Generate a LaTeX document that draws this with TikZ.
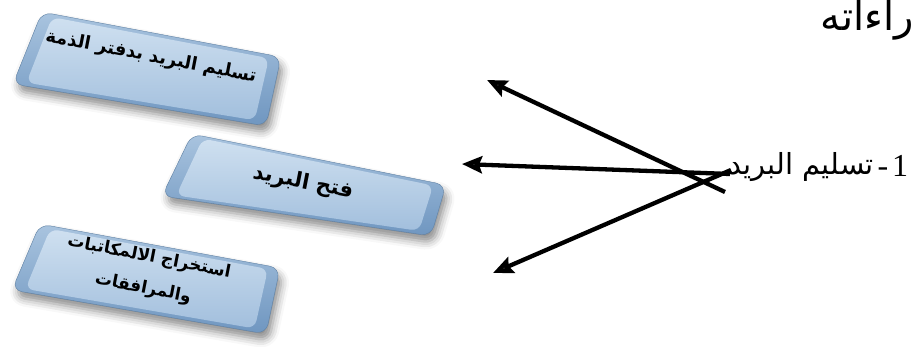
\documentclass[tikz,border=0pt]{standalone}
\usepackage{fontspec}
\setmainfont{Liberation Serif}
\newfontfamily\arabicfont[Script=Arabic]{DejaVu Sans}
\newfontfamily\numfont{Liberation Serif}
\TeXXeTstate=1
\usetikzlibrary{arrows.meta,shadows.blur,calc}
\definecolor{rimtop}{HTML}{A9C4DF}
\definecolor{rimbot}{HTML}{6F96C0}
\definecolor{facetop}{HTML}{CFE0F0}
\definecolor{facebot}{HTML}{A2BFDD}
\begin{document}
\begin{tikzpicture}[x=1pt,y=-1pt,
  rim/.style={rounded corners=10pt, top color=rimtop, bottom color=rimbot, draw=rimbot!85!black, line width=0.4pt,
    blur shadow={shadow xshift=3pt, shadow yshift=-7pt, shadow blur radius=8pt, shadow opacity=45}},
  face/.style={rounded corners=8pt, top color=facetop, bottom color=facebot, draw=none},
  btext/.style={inner sep=0pt, align=center, font=\arabicfont\bfseries\fontsize{18}{30}\selectfont, rotate=-11},
  numtext/.style={inner sep=0pt, anchor=base, font=\numfont\fontsize{32}{36}\selectfont},
  arr/.style={line width=4.3pt, -{Stealth[length=20pt,width=17pt,inset=3pt]}}]
\useasboundingbox (0,0) rectangle (914,347);

% button 1
\coordinate (a1) at (42,12);  \coordinate (a2) at (281,57);
\coordinate (a3) at (266,126); \coordinate (a4) at (13,84);
% button 2
\coordinate (c1) at (192,134); \coordinate (c2) at (446,185);
\coordinate (c3) at (431,236); \coordinate (c4) at (162,196);
% button 3
\coordinate (d1) at (40,224);  \coordinate (d2) at (280,268);
\coordinate (d3) at (266,334); \coordinate (d4) at (12,290);

\foreach \p in {a,c,d}{
  \path[rim] ($(\p1)!0.5!(\p2)$) -- (\p2) -- (\p3) -- (\p4) -- (\p1) -- cycle;
  \path[face] ($($(\p1)!0.045!(\p3)$)!0.5!($(\p2)!0.045!(\p4)$)$)
     -- ($(\p2)!0.045!(\p4)$) -- ($(\p3)!0.05!(\p1)$) -- ($(\p4)!0.05!(\p2)$) -- ($(\p1)!0.045!(\p3)$) -- cycle;
}

\node[btext] (t1) at (151,57) {\beginR تسليم البريد بدفتر الذمة\endR};
\node[btext, font=\arabicfont\bfseries\fontsize{21}{26}\selectfont] (t2) at (303,183) {\beginR فتح البريد\endR};
\node[btext, font=\arabicfont\bfseries\fontsize{17}{32}\selectfont] (t3) at (146,273) {\beginR استخراج الالمكاتبات\endR\\\beginR والمرافقات\endR};

% arrows
\coordinate (s1) at (725,192); \coordinate (e1) at (487,80);
\coordinate (s2) at (730,174); \coordinate (e2) at (462,164);
\coordinate (s3) at (731,170); \coordinate (e3) at (493,273);
\draw[arr] (s1) -- (e1);
\draw[arr] (s2) -- (e2);
\draw[arr] (s3) -- (e3);

% item text
\node[inner sep=0pt, anchor=base west, font=\arabicfont\fontsize{29}{32}\selectfont] (item) at (728,175) {\beginR تسليم البريد\endR};
\node[numtext] (dash) at (883,177) {-};
\node[numtext] (num) at (900,177) {1};

% heading fragment
\node[inner sep=0pt, anchor=north east, font=\arabicfont\fontsize{40}{46}\selectfont] (head) at (914,0) {\beginR راءاته\endR};
\end{tikzpicture}
\end{document}
